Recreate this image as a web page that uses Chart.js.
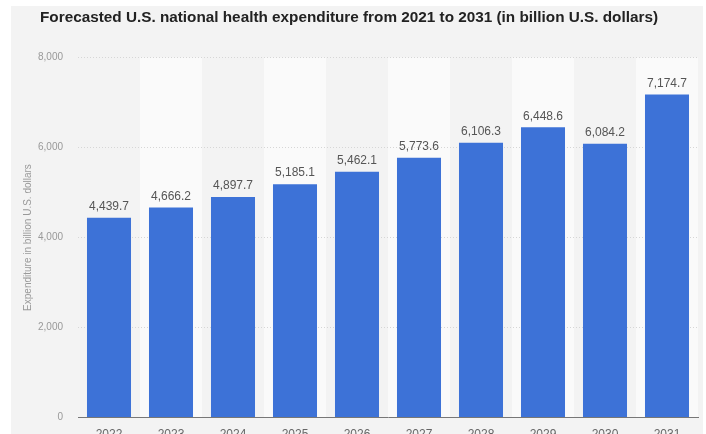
<!DOCTYPE html>
<html>
<head>
<meta charset="utf-8">
<script src="https://cdn.jsdelivr.net/npm/chart.js@4/dist/chart.umd.min.js"></script>
<style>
  html, body { margin: 0; padding: 0; background: #fff; overflow: hidden; }
  #wrap { width: 706px; height: 434px; position: relative; overflow: hidden; }
</style>
</head>
<body>
<div id="wrap"><canvas id="chart" width="706" height="460"></canvas></div>
<script>
// chart data
const years = ['2022','2023','2024','2025','2026','2027','2028','2029','2030','2031'];
const expenditure = [4439.7, 4666.2, 4897.7, 5185.1, 5462.1, 5773.6, 6106.3, 6448.6, 6084.2, 7174.7];
const yTicks = [0, 2000, 4000, 6000, 8000];

const FONT = '"Liberation Sans", Arial, sans-serif';
const fmt = v => v.toLocaleString('en-US', { minimumFractionDigits: 0, maximumFractionDigits: 1 });
const fmtLabel = v => v.toLocaleString('en-US', { minimumFractionDigits: 1, maximumFractionDigits: 1 });

// gray panel + alternating column stripes
const backdrop = {
  id: 'backdrop',
  beforeDraw(chart) {
    const { ctx, chartArea: a, scales: { x } } = chart;
    ctx.save();
    ctx.fillStyle = '#f3f3f3';
    ctx.fillRect(11, 6, 692, 460);
    const half = (x.getPixelForValue(1) - x.getPixelForValue(0)) / 2;
    ctx.fillStyle = '#fafafa';
    years.forEach((y, i) => {
      if (i % 2 === 1) {
        const cx = x.getPixelForValue(i);
        ctx.fillRect(cx - half, a.top, half * 2, a.bottom - a.top);
      }
    });
    ctx.restore();
  }
};

// value labels over the bars
const valueLabels = {
  id: 'valueLabels',
  afterDatasetsDraw(chart) {
    const { ctx } = chart;
    const meta = chart.getDatasetMeta(0);
    ctx.save();
    ctx.font = '12px ' + FONT;
    ctx.fillStyle = '#555';
    ctx.textAlign = 'center';
    ctx.textBaseline = 'middle';
    meta.data.forEach((bar, i) => {
      ctx.fillText(fmtLabel(expenditure[i]), bar.x, bar.y - 11);
    });
    ctx.restore();
  }
};

new Chart(document.getElementById('chart'), {
  type: 'bar',
  data: {
    labels: years,
    datasets: [{
      data: expenditure,
      backgroundColor: '#3d72d7',
      borderWidth: 0,
      categoryPercentage: 0.71,
      barPercentage: 1
    }]
  },
  options: {
    responsive: false,
    animation: false,
    layout: { padding: { top: 0, right: 8, left: 0, bottom: 16 } },
    plugins: {
      legend: { display: false },
      tooltip: { enabled: false },
      title: {
        display: true,
        text: 'Forecasted U.S. national health expenditure from 2021 to 2031 (in billion U.S. dollars)',
        color: '#222',
        font: { family: FONT, size: 15.3, weight: 'bold' },
        padding: { top: 8.5, bottom: 30.6 }
      }
    },
    scales: {
      x: {
        grid: { display: false },
        border: { color: '#777', width: 1 },
        ticks: { color: '#666', padding: 2, maxRotation: 0, font: { family: FONT, size: 12 } }
      },
      y: {
        min: 0,
        max: 8000,
        afterBuildTicks(s) { s.ticks = yTicks.map(v => ({ value: v })); },
        grid: { color: '#d6d6d6', drawTicks: false },
        border: { display: false, dash: [1, 2] },
        ticks: {
          color: '#999', padding: 15,
          font: { family: FONT, size: 10 },
          callback: v => fmt(v)
        },
        title: {
          display: true,
          text: 'Expenditure in billion U.S. dollars',
          color: '#999',
          font: { family: FONT, size: 10 },
          padding: { top: 22, bottom: 0 }
        },
        afterFit(s) { s.width = 78; }
      }
    }
  },
  plugins: [backdrop, valueLabels]
});
</script>
</body>
</html>
